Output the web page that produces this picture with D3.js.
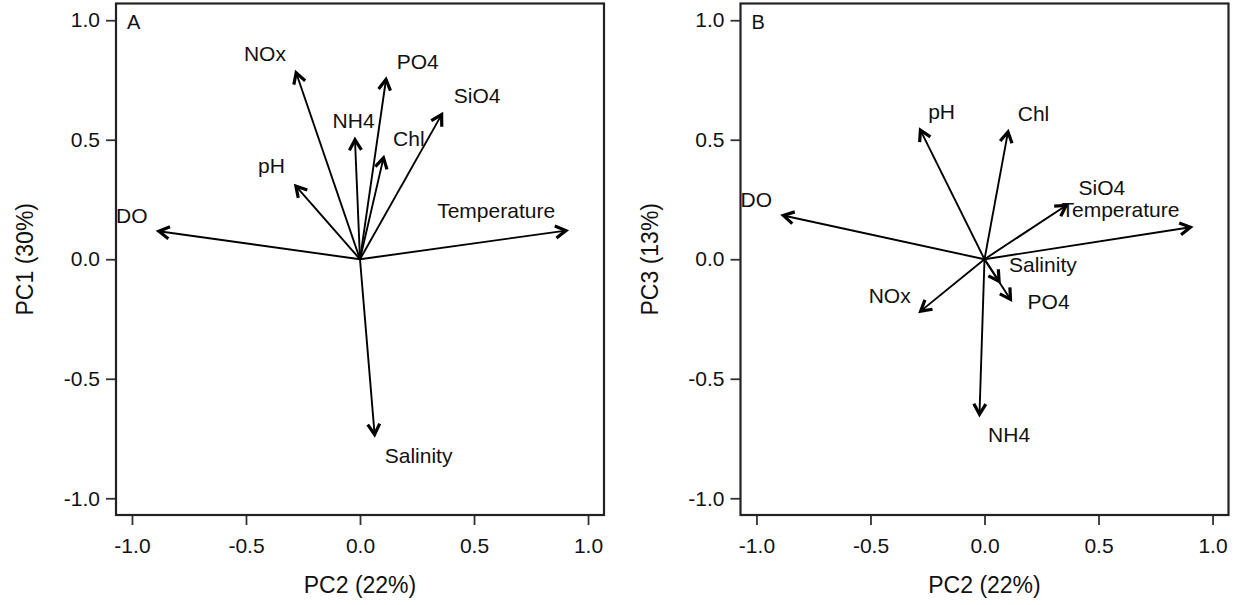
<!DOCTYPE html>
<html>
<head>
<meta charset="utf-8">
<script src="https://cdn.jsdelivr.net/npm/d3@7"></script>
<style>
  html, body { margin: 0; padding: 0; background: #fff; }
  svg text { font-family: "Liberation Sans", Arial, sans-serif; fill: #111; }
</style>
</head>
<body>
<svg id="chart" width="1239" height="605"></svg>
<script>
// ———————————————————————————
// data (loadings)
// ———————————————————————————
const variables = ["NOx", "PO4", "SiO4", "NH4", "Chl", "pH", "DO", "Temperature", "Salinity"];

// PC2 is the x axis of both panels
const pc2 = [-0.28, 0.114, 0.358, -0.022, 0.103, -0.281, -0.882, 0.903, 0.064];
const pc1 = [0.78, 0.752, 0.605, 0.50, 0.424, 0.306, 0.117, 0.12, -0.733];
const pc3 = [-0.217, -0.168, 0.225, -0.649, 0.533, 0.540, 0.183, 0.134, -0.092];

// where each label sits (data units)
const labelXA = [-0.417, 0.253, 0.514, -0.028, 0.214, -0.388, -1.001, 0.597, 0.257];
const labelYA = [0.860, 0.827, 0.684, 0.581, 0.505, 0.392, 0.185, 0.205, -0.820];
const labelXB = [-0.416, 0.281, 0.515, 0.108, 0.215, -0.188, -1.001, 0.596, 0.256];
const labelYB = [-0.150, -0.176, 0.300, -0.731, 0.611, 0.618, 0.251, 0.210, -0.020];

const tickValues = [-1.0, -0.5, 0.0, 0.5, 1.0];

const panels = [
  { tag: "A", xTitle: "PC2 (22%)", yTitle: "PC1 (30%)", left: 116, ys: pc1, lx: labelXA, ly: labelYA },
  { tag: "B", xTitle: "PC2 (22%)", yTitle: "PC3 (13%)", left: 740.5, ys: pc3, lx: labelXB, ly: labelYB }
];

// ———————————————————————————
// layout
// ———————————————————————————
const svg = d3.select("#chart");
const plotW = 488, plotTop = 3.5, plotBottom = 515;
const lim = 1.07;

panels.forEach(drawPanel);

function drawPanel(p) {
  const x = d3.scaleLinear().domain([-lim, lim]).range([p.left, p.left + plotW]);
  const y = d3.scaleLinear().domain([-lim, lim]).range([plotBottom, plotTop]);
  const g = svg.append("g");

  // axes
  const fmt = d3.format(".1f");
  const ax = g.append("g")
      .attr("transform", `translate(0,${plotBottom})`)
      .call(d3.axisBottom(x).tickValues(tickValues).tickFormat(fmt).tickSize(10).tickPadding(13));
  const ay = g.append("g")
      .attr("transform", `translate(${p.left},0)`)
      .call(d3.axisLeft(y).tickValues(tickValues).tickFormat(fmt).tickSize(10).tickPadding(6));
  [ax, ay].forEach(a => {
    a.select(".domain").remove();
    a.selectAll(".tick line").attr("stroke", "#333").attr("stroke-width", 1.8);
    a.selectAll(".tick text").attr("font-size", 21).attr("fill", "#111")
      .style("font-family", '"Liberation Sans", Arial, sans-serif');
  });
  // plain hyphen for negatives, like the original
  g.selectAll(".tick text").text(d => fmt(d).replace("−", "-"));

  // box
  g.append("rect")
    .attr("x", p.left).attr("y", plotTop)
    .attr("width", plotW).attr("height", plotBottom - plotTop)
    .attr("fill", "none").attr("stroke", "#222").attr("stroke-width", 2.2);

  // axis titles
  g.append("text")
    .attr("x", x(0)).attr("y", 593)
    .attr("text-anchor", "middle").attr("font-size", 23)
    .text(p.xTitle);
  g.append("text")
    .attr("transform", `translate(${p.left - 91},${y(0)}) rotate(-90)`)
    .attr("dy", "0.36em")
    .attr("text-anchor", "middle").attr("font-size", 23)
    .text(p.yTitle);

  // panel tag
  g.append("text")
    .attr("x", p.left + 11).attr("y", 29)
    .attr("font-size", 20)
    .text(p.tag);

  // arrows
  const rows = variables.map((v, i) => ({ name: v, vx: pc2[i], vy: p.ys[i], lx: p.lx[i], ly: p.ly[i] }));

  g.selectAll("line.arrow")
    .data(rows)
    .join("line")
      .attr("class", "arrow")
      .attr("x1", x(0)).attr("y1", y(0))
      .attr("x2", d => x(d.vx)).attr("y2", d => y(d.vy))
      .attr("stroke", "#000").attr("stroke-width", 1.9);

  const headLen = 12, headAng = Math.PI / 6;
  g.selectAll("path.head")
    .data(rows)
    .join("path")
      .attr("class", "head")
      .attr("d", d => {
        const tx = x(d.vx), ty = y(d.vy);
        const a = Math.atan2(ty - y(0), tx - x(0));
        const p1 = [tx - headLen * Math.cos(a - headAng), ty - headLen * Math.sin(a - headAng)];
        const p2 = [tx - headLen * Math.cos(a + headAng), ty - headLen * Math.sin(a + headAng)];
        return `M${p1}L${tx},${ty}L${p2}`;
      })
      .attr("fill", "none").attr("stroke", "#000")
      .attr("stroke-width", 3.2).attr("stroke-linejoin", "miter").attr("stroke-linecap", "butt");

  g.selectAll("text.lab")
    .data(rows)
    .join("text")
      .attr("class", "lab")
      .attr("x", d => x(d.lx)).attr("y", d => y(d.ly))
      .attr("dy", "0.36em")
      .attr("text-anchor", "middle").attr("font-size", 21)
      .text(d => d.name);
}
</script>
</body>
</html>
